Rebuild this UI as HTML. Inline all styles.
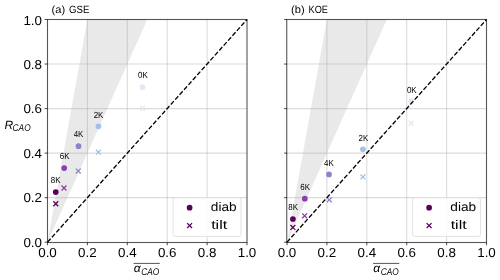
<!DOCTYPE html><html><head><meta charset="utf-8"><style>html,body{margin:0;padding:0;background:#fff;width:500px;height:280px;overflow:hidden}svg{display:block;will-change:transform}</style></head><body>
<svg width="500" height="280" viewBox="0 0 500 280" text-rendering="geometricPrecision" font-family='"Liberation Sans", sans-serif'>
<rect x="0" y="0" width="500" height="280" fill="#fff"/>
<polygon points="47.50,242.20 87.40,19.50 147.25,19.50" fill="#e9e9e9"/>
<line x1="87.40" y1="19.50" x2="87.40" y2="242.20" stroke="#b0b0b0" stroke-opacity="0.45" stroke-width="1.1"/>
<line x1="47.50" y1="197.66" x2="247.00" y2="197.66" stroke="#b0b0b0" stroke-opacity="0.45" stroke-width="1.1"/>
<line x1="127.30" y1="19.50" x2="127.30" y2="242.20" stroke="#b0b0b0" stroke-opacity="0.45" stroke-width="1.1"/>
<line x1="47.50" y1="153.12" x2="247.00" y2="153.12" stroke="#b0b0b0" stroke-opacity="0.45" stroke-width="1.1"/>
<line x1="167.20" y1="19.50" x2="167.20" y2="242.20" stroke="#b0b0b0" stroke-opacity="0.45" stroke-width="1.1"/>
<line x1="47.50" y1="108.58" x2="247.00" y2="108.58" stroke="#b0b0b0" stroke-opacity="0.45" stroke-width="1.1"/>
<line x1="207.10" y1="19.50" x2="207.10" y2="242.20" stroke="#b0b0b0" stroke-opacity="0.45" stroke-width="1.1"/>
<line x1="47.50" y1="64.04" x2="247.00" y2="64.04" stroke="#b0b0b0" stroke-opacity="0.45" stroke-width="1.1"/>
<circle cx="142.50" cy="87.10" r="2.85" fill="#dde9f4"/>
<path d="M140.15 105.85L145.05 110.75M140.15 110.75L145.05 105.85" stroke="#dde9f4" stroke-width="1.3" fill="none"/>
<text x="142.95" y="78.00" font-size="8.9" text-anchor="middle" textLength="9.7" lengthAdjust="spacingAndGlyphs" fill="#000">0K</text>
<circle cx="98.40" cy="126.30" r="2.85" fill="#a2c2e3"/>
<path d="M95.95 149.75L100.85 154.65M95.95 154.65L100.85 149.75" stroke="#a2c2e3" stroke-width="1.3" fill="none"/>
<text x="98.50" y="118.30" font-size="8.9" text-anchor="middle" textLength="9.7" lengthAdjust="spacingAndGlyphs" fill="#000">2K</text>
<circle cx="78.50" cy="146.20" r="2.85" fill="#8686c8"/>
<path d="M75.85 168.65L80.75 173.55M75.85 173.55L80.75 168.65" stroke="#8686c8" stroke-width="1.3" fill="none"/>
<text x="78.55" y="137.30" font-size="8.9" text-anchor="middle" textLength="9.7" lengthAdjust="spacingAndGlyphs" fill="#000">4K</text>
<circle cx="64.20" cy="168.10" r="2.85" fill="#8b3fae"/>
<path d="M61.55 185.55L66.45 190.45M61.55 190.45L66.45 185.55" stroke="#8b3fae" stroke-width="1.3" fill="none"/>
<text x="64.60" y="159.10" font-size="8.9" text-anchor="middle" textLength="9.7" lengthAdjust="spacingAndGlyphs" fill="#000">6K</text>
<circle cx="55.75" cy="192.10" r="2.85" fill="#5a005a"/>
<path d="M53.30 201.30L58.20 206.20M53.30 206.20L58.20 201.30" stroke="#5a005a" stroke-width="1.3" fill="none"/>
<text x="55.70" y="183.25" font-size="8.9" text-anchor="middle" textLength="9.7" lengthAdjust="spacingAndGlyphs" fill="#000">8K</text>
<line x1="47.50" y1="242.20" x2="247.00" y2="19.50" stroke="#000" stroke-width="1.3" stroke-dasharray="4.6 2.0"/>
<rect x="47.50" y="19.50" width="199.50" height="223.00" fill="none" stroke="#000" stroke-opacity="0.66" stroke-width="1.1"/>
<line x1="47.50" y1="242.50" x2="47.50" y2="245.30" stroke="#000" stroke-opacity="0.66" stroke-width="1.1"/>
<line x1="44.60" y1="242.20" x2="47.50" y2="242.20" stroke="#000" stroke-opacity="0.66" stroke-width="1.1"/>
<text x="47.50" y="257.10" font-size="13" text-anchor="middle" textLength="18.6" lengthAdjust="spacingAndGlyphs" fill="#000">0.0</text>
<text x="42.00" y="246.70" font-size="13" text-anchor="end" textLength="18.6" lengthAdjust="spacingAndGlyphs" fill="#000">0.0</text>
<line x1="87.40" y1="242.50" x2="87.40" y2="245.30" stroke="#000" stroke-opacity="0.66" stroke-width="1.1"/>
<line x1="44.60" y1="197.66" x2="47.50" y2="197.66" stroke="#000" stroke-opacity="0.66" stroke-width="1.1"/>
<text x="87.40" y="257.10" font-size="13" text-anchor="middle" textLength="18.6" lengthAdjust="spacingAndGlyphs" fill="#000">0.2</text>
<text x="42.00" y="202.16" font-size="13" text-anchor="end" textLength="18.6" lengthAdjust="spacingAndGlyphs" fill="#000">0.2</text>
<line x1="127.30" y1="242.50" x2="127.30" y2="245.30" stroke="#000" stroke-opacity="0.66" stroke-width="1.1"/>
<line x1="44.60" y1="153.12" x2="47.50" y2="153.12" stroke="#000" stroke-opacity="0.66" stroke-width="1.1"/>
<text x="127.30" y="257.10" font-size="13" text-anchor="middle" textLength="18.6" lengthAdjust="spacingAndGlyphs" fill="#000">0.4</text>
<text x="42.00" y="157.62" font-size="13" text-anchor="end" textLength="18.6" lengthAdjust="spacingAndGlyphs" fill="#000">0.4</text>
<line x1="167.20" y1="242.50" x2="167.20" y2="245.30" stroke="#000" stroke-opacity="0.66" stroke-width="1.1"/>
<line x1="44.60" y1="108.58" x2="47.50" y2="108.58" stroke="#000" stroke-opacity="0.66" stroke-width="1.1"/>
<text x="167.20" y="257.10" font-size="13" text-anchor="middle" textLength="18.6" lengthAdjust="spacingAndGlyphs" fill="#000">0.6</text>
<text x="42.00" y="113.08" font-size="13" text-anchor="end" textLength="18.6" lengthAdjust="spacingAndGlyphs" fill="#000">0.6</text>
<line x1="207.10" y1="242.50" x2="207.10" y2="245.30" stroke="#000" stroke-opacity="0.66" stroke-width="1.1"/>
<line x1="44.60" y1="64.04" x2="47.50" y2="64.04" stroke="#000" stroke-opacity="0.66" stroke-width="1.1"/>
<text x="207.10" y="257.10" font-size="13" text-anchor="middle" textLength="18.6" lengthAdjust="spacingAndGlyphs" fill="#000">0.8</text>
<text x="42.00" y="68.54" font-size="13" text-anchor="end" textLength="18.6" lengthAdjust="spacingAndGlyphs" fill="#000">0.8</text>
<line x1="247.00" y1="242.50" x2="247.00" y2="245.30" stroke="#000" stroke-opacity="0.66" stroke-width="1.1"/>
<line x1="44.60" y1="19.50" x2="47.50" y2="19.50" stroke="#000" stroke-opacity="0.66" stroke-width="1.1"/>
<text x="247.00" y="257.10" font-size="13" text-anchor="middle" textLength="18.6" lengthAdjust="spacingAndGlyphs" fill="#000">1.0</text>
<text x="42.00" y="24.60" font-size="13" text-anchor="end" textLength="18.6" lengthAdjust="spacingAndGlyphs" fill="#000">1.0</text>
<rect x="173.10" y="197.8" width="67.9" height="38.6" rx="2.2" fill="#fff" fill-opacity="0.8" stroke="#e3e3e3" stroke-width="1"/>
<circle cx="189.60" cy="207.7" r="2.85" fill="#5a005a"/>
<path d="M187.15 223.15L192.05 228.05M187.15 228.05L192.05 223.15" stroke="#5a005a" stroke-width="1.3" fill="none"/>
<text x="210.80" y="211.2" font-size="12.4" textLength="25.8" lengthAdjust="spacingAndGlyphs" fill="#000">diab</text>
<text x="211.20" y="228.8" font-size="12.4" textLength="16.0" lengthAdjust="spacingAndGlyphs" fill="#000">tilt</text>
<text x="51.60" y="12.75" font-size="10.50" textLength="13.60" lengthAdjust="spacingAndGlyphs" fill="#000">(a)</text>
<text x="69.10" y="12.75" font-size="10.50" textLength="20.30" lengthAdjust="spacingAndGlyphs" fill="#000">GSE</text>
<line x1="133.60" y1="263.4" x2="159.80" y2="263.4" stroke="#000" stroke-opacity="0.8" stroke-width="0.85"/>
<text x="133.70" y="272.4" font-size="11.8" font-style="italic" textLength="6.9" lengthAdjust="spacingAndGlyphs" fill="#000">&#945;</text>
<text x="141.20" y="274.7" font-size="9.8" font-style="italic" textLength="18.0" lengthAdjust="spacingAndGlyphs" fill="#000">CAO</text>
<polygon points="287.00,242.20 326.90,19.50 386.75,19.50" fill="#e9e9e9"/>
<line x1="326.90" y1="19.50" x2="326.90" y2="242.20" stroke="#b0b0b0" stroke-opacity="0.45" stroke-width="1.1"/>
<line x1="287.00" y1="197.66" x2="486.50" y2="197.66" stroke="#b0b0b0" stroke-opacity="0.45" stroke-width="1.1"/>
<line x1="366.80" y1="19.50" x2="366.80" y2="242.20" stroke="#b0b0b0" stroke-opacity="0.45" stroke-width="1.1"/>
<line x1="287.00" y1="153.12" x2="486.50" y2="153.12" stroke="#b0b0b0" stroke-opacity="0.45" stroke-width="1.1"/>
<line x1="406.70" y1="19.50" x2="406.70" y2="242.20" stroke="#b0b0b0" stroke-opacity="0.45" stroke-width="1.1"/>
<line x1="287.00" y1="108.58" x2="486.50" y2="108.58" stroke="#b0b0b0" stroke-opacity="0.45" stroke-width="1.1"/>
<line x1="446.60" y1="19.50" x2="446.60" y2="242.20" stroke="#b0b0b0" stroke-opacity="0.45" stroke-width="1.1"/>
<line x1="287.00" y1="64.04" x2="486.50" y2="64.04" stroke="#b0b0b0" stroke-opacity="0.45" stroke-width="1.1"/>
<circle cx="411.10" cy="101.10" r="2.85" fill="#dde9f4"/>
<path d="M408.75 120.95L413.65 125.85M408.75 125.85L413.65 120.95" stroke="#dde9f4" stroke-width="1.3" fill="none"/>
<text x="411.80" y="93.00" font-size="8.9" text-anchor="middle" textLength="9.7" lengthAdjust="spacingAndGlyphs" fill="#000">0K</text>
<circle cx="362.90" cy="149.30" r="2.85" fill="#a2c2e3"/>
<path d="M360.45 174.45L365.35 179.35M360.45 179.35L365.35 174.45" stroke="#a2c2e3" stroke-width="1.3" fill="none"/>
<text x="363.40" y="141.20" font-size="8.9" text-anchor="middle" textLength="9.7" lengthAdjust="spacingAndGlyphs" fill="#000">2K</text>
<circle cx="329.00" cy="174.40" r="2.85" fill="#8686c8"/>
<path d="M326.85 197.35L331.75 202.25M326.85 202.25L331.75 197.35" stroke="#8686c8" stroke-width="1.3" fill="none"/>
<text x="328.90" y="166.10" font-size="8.9" text-anchor="middle" textLength="9.7" lengthAdjust="spacingAndGlyphs" fill="#000">4K</text>
<circle cx="304.80" cy="198.70" r="2.85" fill="#8b3fae"/>
<path d="M302.15 213.35L307.05 218.25M302.15 218.25L307.05 213.35" stroke="#8b3fae" stroke-width="1.3" fill="none"/>
<text x="305.10" y="190.20" font-size="8.9" text-anchor="middle" textLength="9.7" lengthAdjust="spacingAndGlyphs" fill="#000">6K</text>
<circle cx="292.90" cy="219.00" r="2.85" fill="#5a005a"/>
<path d="M290.45 224.95L295.35 229.85M290.45 229.85L295.35 224.95" stroke="#5a005a" stroke-width="1.3" fill="none"/>
<text x="293.20" y="210.40" font-size="8.9" text-anchor="middle" textLength="9.7" lengthAdjust="spacingAndGlyphs" fill="#000">8K</text>
<line x1="287.00" y1="242.20" x2="486.50" y2="19.50" stroke="#000" stroke-width="1.3" stroke-dasharray="4.6 2.0"/>
<rect x="286.75" y="19.50" width="199.75" height="223.00" fill="none" stroke="#000" stroke-opacity="0.66" stroke-width="1.1"/>
<line x1="287.00" y1="242.50" x2="287.00" y2="245.30" stroke="#000" stroke-opacity="0.66" stroke-width="1.1"/>
<line x1="284.10" y1="242.20" x2="287.00" y2="242.20" stroke="#000" stroke-opacity="0.66" stroke-width="1.1"/>
<text x="287.00" y="257.10" font-size="13" text-anchor="middle" textLength="18.6" lengthAdjust="spacingAndGlyphs" fill="#000">0.0</text>
<line x1="326.90" y1="242.50" x2="326.90" y2="245.30" stroke="#000" stroke-opacity="0.66" stroke-width="1.1"/>
<line x1="284.10" y1="197.66" x2="287.00" y2="197.66" stroke="#000" stroke-opacity="0.66" stroke-width="1.1"/>
<text x="326.90" y="257.10" font-size="13" text-anchor="middle" textLength="18.6" lengthAdjust="spacingAndGlyphs" fill="#000">0.2</text>
<line x1="366.80" y1="242.50" x2="366.80" y2="245.30" stroke="#000" stroke-opacity="0.66" stroke-width="1.1"/>
<line x1="284.10" y1="153.12" x2="287.00" y2="153.12" stroke="#000" stroke-opacity="0.66" stroke-width="1.1"/>
<text x="366.80" y="257.10" font-size="13" text-anchor="middle" textLength="18.6" lengthAdjust="spacingAndGlyphs" fill="#000">0.4</text>
<line x1="406.70" y1="242.50" x2="406.70" y2="245.30" stroke="#000" stroke-opacity="0.66" stroke-width="1.1"/>
<line x1="284.10" y1="108.58" x2="287.00" y2="108.58" stroke="#000" stroke-opacity="0.66" stroke-width="1.1"/>
<text x="406.70" y="257.10" font-size="13" text-anchor="middle" textLength="18.6" lengthAdjust="spacingAndGlyphs" fill="#000">0.6</text>
<line x1="446.60" y1="242.50" x2="446.60" y2="245.30" stroke="#000" stroke-opacity="0.66" stroke-width="1.1"/>
<line x1="284.10" y1="64.04" x2="287.00" y2="64.04" stroke="#000" stroke-opacity="0.66" stroke-width="1.1"/>
<text x="446.60" y="257.10" font-size="13" text-anchor="middle" textLength="18.6" lengthAdjust="spacingAndGlyphs" fill="#000">0.8</text>
<line x1="486.50" y1="242.50" x2="486.50" y2="245.30" stroke="#000" stroke-opacity="0.66" stroke-width="1.1"/>
<line x1="284.10" y1="19.50" x2="287.00" y2="19.50" stroke="#000" stroke-opacity="0.66" stroke-width="1.1"/>
<text x="486.50" y="257.10" font-size="13" text-anchor="middle" textLength="18.6" lengthAdjust="spacingAndGlyphs" fill="#000">1.0</text>
<rect x="412.60" y="197.8" width="67.9" height="38.6" rx="2.2" fill="#fff" fill-opacity="0.8" stroke="#e3e3e3" stroke-width="1"/>
<circle cx="429.10" cy="207.7" r="2.85" fill="#5a005a"/>
<path d="M426.65 223.15L431.55 228.05M426.65 228.05L431.55 223.15" stroke="#5a005a" stroke-width="1.3" fill="none"/>
<text x="450.30" y="211.2" font-size="12.4" textLength="25.8" lengthAdjust="spacingAndGlyphs" fill="#000">diab</text>
<text x="450.70" y="228.8" font-size="12.4" textLength="16.0" lengthAdjust="spacingAndGlyphs" fill="#000">tilt</text>
<text x="291.10" y="12.75" font-size="10.50" textLength="13.60" lengthAdjust="spacingAndGlyphs" fill="#000">(b)</text>
<text x="308.60" y="12.75" font-size="10.50" textLength="19.30" lengthAdjust="spacingAndGlyphs" fill="#000">KOE</text>
<line x1="373.10" y1="263.4" x2="399.30" y2="263.4" stroke="#000" stroke-opacity="0.8" stroke-width="0.85"/>
<text x="373.20" y="272.4" font-size="11.8" font-style="italic" textLength="6.9" lengthAdjust="spacingAndGlyphs" fill="#000">&#945;</text>
<text x="380.70" y="274.7" font-size="9.8" font-style="italic" textLength="18.0" lengthAdjust="spacingAndGlyphs" fill="#000">CAO</text>
<text x="4.5" y="128.8" font-size="12" font-style="italic" fill="#000">R</text>
<text x="12.6" y="130.7" font-size="9.8" font-style="italic" textLength="18.0" lengthAdjust="spacingAndGlyphs" fill="#000">CAO</text>
</svg></body></html>
